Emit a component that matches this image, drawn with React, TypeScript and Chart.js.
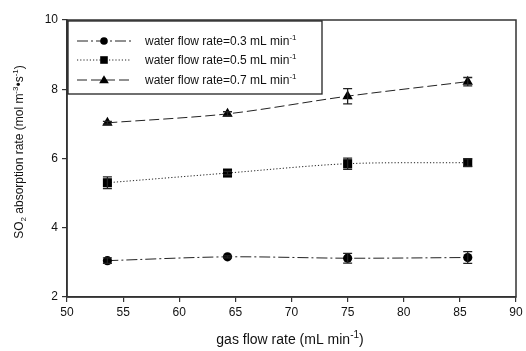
import React, { useEffect, useRef } from "react";
import { Chart, registerables } from "chart.js";

Chart.register(...registerables);

const gasFlow = [53.6, 64.3, 75.0, 85.7];
const rate03 = [3.05, 3.16, 3.12, 3.14];
const err03 = [0.08, 0.03, 0.14, 0.17];
const rate05 = [5.3, 5.58, 5.85, 5.88];
const err05 = [0.17, 0.05, 0.16, 0.11];
const rate07 = [7.03, 7.29, 7.8, 8.22];
const err07 = [0.04, 0.06, 0.22, 0.12];
const legendLabels = ["water flow rate=0.3 mL min", "water flow rate=0.5 mL min", "water flow rate=0.7 mL min"];
const xTicks = [50, 55, 60, 65, 70, 75, 80, 85, 90];
const yTicks = [2, 4, 6, 8, 10];

const FONT = '"Liberation Sans", Arial, sans-serif';
const INK = "#222";

type Seg = { t: string; mode?: "sup" | "sub" };

function drawRich(ctx: CanvasRenderingContext2D, segs: Seg[], x: number, y: number, size: number, align: "left" | "center") {
  const small = Math.round(size * 0.7);
  const widths = segs.map((s) => {
    ctx.font = `${s.mode ? small : size}px ${FONT}`;
    return ctx.measureText(s.t).width;
  });
  const total = widths.reduce((a, b) => a + b, 0);
  let cx = align === "center" ? x - total / 2 : x;
  ctx.textBaseline = "middle";
  ctx.textAlign = "left";
  segs.forEach((s, i) => {
    ctx.font = `${s.mode ? small : size}px ${FONT}`;
    const dy = s.mode === "sup" ? -size * 0.35 : s.mode === "sub" ? size * 0.3 : 0;
    ctx.fillText(s.t, cx, y + dy);
    cx += widths[i];
  });
}

function drawMarker(ctx: CanvasRenderingContext2D, style: string, x: number, y: number, r: number) {
  ctx.beginPath();
  if (style === "circle") {
    ctx.arc(x, y, r, 0, Math.PI * 2);
  } else if (style === "rect") {
    ctx.rect(x - r, y - r, 2 * r, 2 * r);
  } else {
    ctx.moveTo(x, y - r * 1.15);
    ctx.lineTo(x + r * 1.15, y + r * 0.8);
    ctx.lineTo(x - r * 1.15, y + r * 0.8);
    ctx.closePath();
  }
  ctx.fill();
}

const series = [
  { label: legendLabels[0], data: rate03, err: err03, style: "circle", dash: [11, 3, 2, 3], radius: 4.6, legR: 3.8 },
  { label: legendLabels[1], data: rate05, err: err05, style: "rect", dash: [1.2, 2], radius: 6.4, legR: 3.8 },
  { label: legendLabels[2], data: rate07, err: err07, style: "triangle", dash: [10, 4], radius: 6, legR: 4.2 },
];

export default function App() {
  const ref = useRef<HTMLCanvasElement>(null);
  useEffect(() => {
    const canvas = ref.current!;
    const overlay = {
      id: "overlay",
      afterDatasetsDraw(chart: any) {
        const ctx = chart.ctx as CanvasRenderingContext2D;
        const xs = chart.scales.x;
        const ys = chart.scales.y;
        ctx.save();
        ctx.strokeStyle = INK;
        ctx.lineWidth = 1.3;
        ctx.setLineDash([]);
        series.forEach((s) => {
          s.data.forEach((v, i) => {
            const px = xs.getPixelForValue(gasFlow[i]);
            const top = ys.getPixelForValue(v + s.err[i]);
            const bot = ys.getPixelForValue(v - s.err[i]);
            ctx.beginPath();
            ctx.moveTo(px, top);
            ctx.lineTo(px, bot);
            ctx.moveTo(px - 4.5, top);
            ctx.lineTo(px + 4.5, top);
            ctx.moveTo(px - 4.5, bot);
            ctx.lineTo(px + 4.5, bot);
            ctx.stroke();
          });
        });
        ctx.restore();
      },
      afterDraw(chart: any) {
        const ctx = chart.ctx as CanvasRenderingContext2D;
        const a = chart.chartArea;
        ctx.save();
        ctx.strokeStyle = "#333";
        ctx.lineWidth = 1.5;
        ctx.setLineDash([]);
        ctx.strokeRect(a.left, a.top, a.right - a.left, a.bottom - a.top);
        const lx = a.left + 1, ly = a.top + 1;
        ctx.lineWidth = 1.3;
        ctx.strokeStyle = "#222";
        ctx.strokeRect(lx, ly, 254, 73);
        const rows = [41, 60, 80];
        series.forEach((s, i) => {
          const y = rows[i];
          ctx.strokeStyle = INK;
          ctx.lineWidth = 1;
          ctx.setLineDash(s.dash);
          ctx.beginPath();
          ctx.moveTo(77, y);
          ctx.lineTo(131, y);
          ctx.stroke();
          ctx.setLineDash([]);
          ctx.fillStyle = "#000";
          drawMarker(ctx, s.style, 104, y, s.legR);
          ctx.fillStyle = "#111";
          drawRich(ctx, [{ t: s.label }, { t: "-1", mode: "sup" }], 145, y + 1, 12, "left");
        });
        ctx.fillStyle = "#111";
        drawRich(ctx, [{ t: "gas flow rate (mL min" }, { t: "-1", mode: "sup" }, { t: ")" }], 290, 340, 14, "center");
        ctx.translate(20, 152);
        ctx.rotate(-Math.PI / 2);
        drawRich(
          ctx,
          [
            { t: "SO" },
            { t: "2", mode: "sub" },
            { t: " absorption rate (mol m" },
            { t: "-3", mode: "sup" },
            { t: "\u2022s" },
            { t: "-1", mode: "sup" },
            { t: ")" },
          ],
          0,
          0,
          12,
          "center"
        );
        ctx.restore();
      },
    };

    const chart = new Chart(canvas, {
      type: "line",
      data: {
        datasets: series.map((s) => ({
          label: s.label,
          data: s.data.map((v, i) => ({ x: gasFlow[i], y: v })),
          borderColor: INK,
          borderWidth: 1,
          borderDash: s.dash,
          pointStyle: s.style as any,
          pointRadius: s.radius,
          pointBackgroundColor: "#000",
          pointBorderColor: "#000",
          pointBorderWidth: 0,
          tension: 0.3,
          fill: false,
        })),
      },
      options: {
        animation: false,
        responsive: false,
        layout: { padding: { left: 0, right: 10, top: 20, bottom: 0 } },
        plugins: { legend: { display: false }, tooltip: { enabled: false } },
        scales: {
          x: {
            type: "linear",
            min: 50,
            max: 90,
            afterBuildTicks: (s: any) => {
              s.ticks = xTicks.map((v) => ({ value: v }));
            },
            afterFit: (s: any) => {
              s.height = 54;
            },
            ticks: { color: "#111", font: { family: FONT, size: 12 }, padding: 3, maxRotation: 0 },
            grid: { drawOnChartArea: false, drawTicks: true, tickLength: 5, color: "#333", lineWidth: 1.2 },
            border: { display: true, color: "#333", width: 1.5 },
          },
          y: {
            type: "linear",
            min: 2,
            max: 10,
            afterBuildTicks: (s: any) => {
              s.ticks = yTicks.map((v) => ({ value: v }));
            },
            afterFit: (s: any) => {
              s.width = 67;
            },
            ticks: { color: "#111", font: { family: FONT, size: 12 }, padding: 4 },
            grid: { drawOnChartArea: false, drawTicks: true, tickLength: 5, color: "#333", lineWidth: 1.2 },
            border: { display: true, color: "#333", width: 1.5 },
          },
        },
      },
      plugins: [overlay],
    });
    return () => chart.destroy();
  }, []);
  return (
    <div style={{ position: "fixed", left: 0, top: 0, width: 526, height: 351, background: "#fff" }}>
      <canvas ref={ref} width={526} height={351} style={{ width: 526, height: 351, display: "block" }} />
    </div>
  );
}
